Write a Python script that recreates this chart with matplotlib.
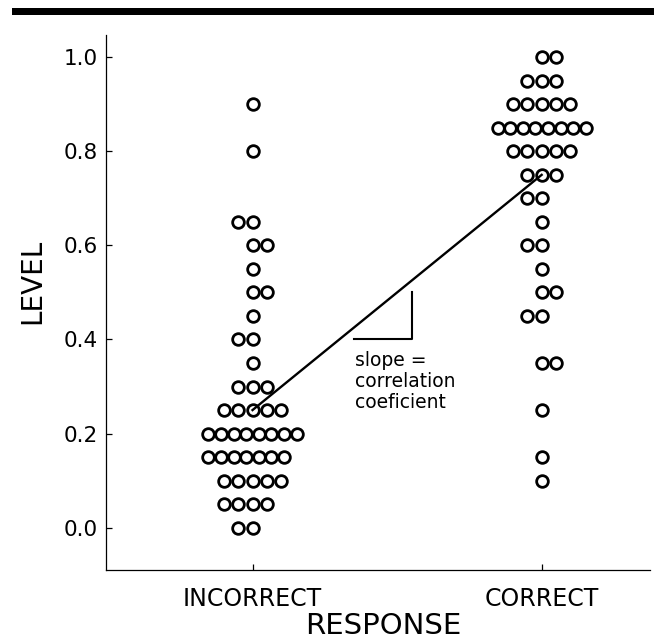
import matplotlib
matplotlib.use("Agg")
import matplotlib.pyplot as plt
from matplotlib.patches import Rectangle

# data: level values and how many subjects sit at each level
incorrect_levels = [0.0, 0.05, 0.1, 0.15, 0.2, 0.25, 0.3, 0.35, 0.4, 0.45, 0.5, 0.55, 0.6, 0.65, 0.8, 0.9]
incorrect_counts = [2, 4, 5, 7, 8, 5, 3, 1, 2, 1, 2, 1, 2, 2, 1, 1]
correct_levels = [0.1, 0.15, 0.25, 0.35, 0.45, 0.5, 0.55, 0.6, 0.65, 0.7, 0.75, 0.8, 0.85, 0.9, 0.95, 1.0]
correct_counts = [1, 1, 1, 2, 2, 2, 1, 2, 1, 2, 3, 5, 8, 5, 3, 2]
response_labels = ["INCORRECT", "CORRECT"]
fit_ends = [0.25, 0.75]  # fitted level at incorrect / correct
y_ticks = [0.0, 0.2, 0.4, 0.6, 0.8, 1.0]

# layout: rows with an even count lean left (-) or right (+) by half a circle
incorrect_nudge = {0.0: -0.5, 0.05: -0.5, 0.15: -0.5, 0.4: -0.5, 0.65: -0.5, 0.6: 0.5, 0.5: 0.5}
correct_nudge = {1.0: 0.5, 0.7: -0.5, 0.6: -0.5, 0.45: -0.5, 0.5: 0.5, 0.35: 0.5}


def stack(xc, levels, counts, nudge):
    xs, ys = [], []
    for lev, n in zip(levels, counts):
        gap = 0.0495 if n <= 5 else 0.0436
        shift = nudge.get(lev, 0.0)
        for k in range(n):
            xs.append(xc + (k - (n - 1) / 2 + shift) * gap)
            ys.append(lev)
    return xs, ys


fig = plt.figure(figsize=(6.54, 6.39), dpi=100)
ax = fig.add_axes([0.162, 0.108, 0.832, 0.837])

# thick rule across the top of the figure
fig.add_artist(Rectangle((12 / 654, 1 - 14.5 / 639), 1.0, 6.5 / 639,
                         transform=fig.transFigure, color="black", lw=0))

for i, (levels, counts, nudge) in enumerate([(incorrect_levels, incorrect_counts, incorrect_nudge),
                                             (correct_levels, correct_counts, correct_nudge)]):
    xs, ys = stack(i, levels, counts, nudge)
    ax.plot(xs, ys, "o", ms=8.4, mfc="none", mec="black", mew=2.0, zorder=2)

ax.plot([0, 1], fit_ends, color="black", lw=1.7, zorder=3)

# little slope triangle under the line
ax.plot([0.35, 0.55, 0.55], [0.40, 0.40, 0.50], color="black", lw=1.5)
ax.text(0.355, 0.376, "slope =\ncorrelation\ncoeficient", fontsize=13.5,
        va="top", ha="left", linespacing=1.15)

ax.set_xlim(-0.507, 1.375)
ax.set_ylim(-0.09, 1.047)
ax.set_xticks([0, 1])
ax.set_xticklabels(response_labels)
ax.set_yticks(y_ticks)
ax.set_yticklabels([f"{v:.1f}" for v in y_ticks])

for s in ["top", "right"]:
    ax.spines[s].set_visible(False)
for s in ["left", "bottom"]:
    ax.spines[s].set_linewidth(0.9)

ax.tick_params(axis="y", direction="in", length=4, width=0.9, labelsize=15.5, pad=6)
ax.tick_params(axis="x", direction="in", length=4, width=0.9, labelsize=17, pad=12)

ax.set_xlabel("RESPONSE", fontsize=21, labelpad=1, x=0.51)
ax.set_ylabel("LEVEL", fontsize=20, labelpad=12, y=0.54)

fig.savefig("out.png", dpi=100)
